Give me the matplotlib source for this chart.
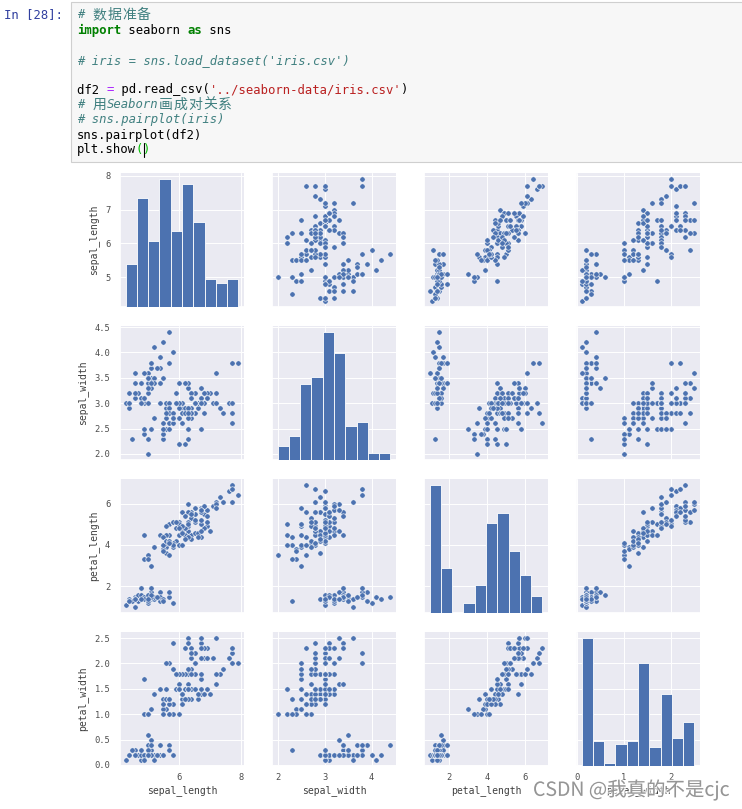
import numpy as np
import pandas as pd
import matplotlib
matplotlib.use('Agg')
import matplotlib.pyplot as plt
import matplotlib.patheffects as pe
from matplotlib.patches import Rectangle
import seaborn as sns

# ---------------- data (iris) ----------------
sepal_length = [
    5.1, 4.9, 4.7, 4.6, 5.0, 5.4, 4.6, 5.0, 4.4, 4.9, 5.4, 4.8, 4.8, 4.3, 5.8, 5.7, 5.4, 5.1, 5.7, 5.1,
    5.4, 5.1, 4.6, 5.1, 4.8, 5.0, 5.0, 5.2, 5.2, 4.7, 4.8, 5.4, 5.2, 5.5, 4.9, 5.0, 5.5, 4.9, 4.4, 5.1,
    5.0, 4.5, 4.4, 5.0, 5.1, 4.8, 5.1, 4.6, 5.3, 5.0,
    7.0, 6.4, 6.9, 5.5, 6.5, 5.7, 6.3, 4.9, 6.6, 5.2, 5.0, 5.9, 6.0, 6.1, 5.6, 6.7, 5.6, 5.8, 6.2, 5.6,
    5.9, 6.1, 6.3, 6.1, 6.4, 6.6, 6.8, 6.7, 6.0, 5.7, 5.5, 5.5, 5.8, 6.0, 5.4, 6.0, 6.7, 6.3, 5.6, 5.5,
    5.5, 6.1, 5.8, 5.0, 5.6, 5.7, 5.7, 6.2, 5.1, 5.7,
    6.3, 5.8, 7.1, 6.3, 6.5, 7.6, 4.9, 7.3, 6.7, 7.2, 6.5, 6.4, 6.8, 5.7, 5.8, 6.4, 6.5, 7.7, 7.7, 6.0,
    6.9, 5.6, 7.7, 6.3, 6.7, 7.2, 6.2, 6.1, 6.4, 7.2, 7.4, 7.9, 6.4, 6.3, 6.1, 7.7, 6.3, 6.4, 6.0, 6.9,
    6.7, 6.9, 5.8, 6.8, 6.7, 6.7, 6.3, 6.5, 6.2, 5.9]
sepal_width = [
    3.5, 3.0, 3.2, 3.1, 3.6, 3.9, 3.4, 3.4, 2.9, 3.1, 3.7, 3.4, 3.0, 3.0, 4.0, 4.4, 3.9, 3.5, 3.8, 3.8,
    3.4, 3.7, 3.6, 3.3, 3.4, 3.0, 3.4, 3.5, 3.4, 3.2, 3.1, 3.4, 4.1, 4.2, 3.1, 3.2, 3.5, 3.6, 3.0, 3.4,
    3.5, 2.3, 3.2, 3.5, 3.8, 3.0, 3.8, 3.2, 3.7, 3.3,
    3.2, 3.2, 3.1, 2.3, 2.8, 2.8, 3.3, 2.4, 2.9, 2.7, 2.0, 3.0, 2.2, 2.9, 2.9, 3.1, 3.0, 2.7, 2.2, 2.5,
    3.2, 2.8, 2.5, 2.8, 2.9, 3.0, 2.8, 3.0, 2.9, 2.6, 2.4, 2.4, 2.7, 2.7, 3.0, 3.4, 3.1, 2.3, 3.0, 2.5,
    2.6, 3.0, 2.6, 2.3, 2.7, 3.0, 2.9, 2.9, 2.5, 2.8,
    3.3, 2.7, 3.0, 2.9, 3.0, 3.0, 2.5, 2.9, 2.5, 3.6, 3.2, 2.7, 3.0, 2.5, 2.8, 3.2, 3.0, 3.8, 2.6, 2.2,
    3.2, 2.8, 2.8, 2.7, 3.3, 3.2, 2.8, 3.0, 2.8, 3.0, 2.8, 3.8, 2.8, 2.8, 2.6, 3.0, 3.4, 3.1, 3.0, 3.1,
    3.1, 3.1, 2.7, 3.2, 3.3, 3.0, 2.5, 3.0, 3.4, 3.0]
petal_length = [
    1.4, 1.4, 1.3, 1.5, 1.4, 1.7, 1.4, 1.5, 1.4, 1.5, 1.5, 1.6, 1.4, 1.1, 1.2, 1.5, 1.3, 1.4, 1.7, 1.5,
    1.7, 1.5, 1.0, 1.7, 1.9, 1.6, 1.6, 1.5, 1.4, 1.6, 1.6, 1.5, 1.5, 1.4, 1.5, 1.2, 1.3, 1.4, 1.3, 1.5,
    1.3, 1.3, 1.3, 1.6, 1.9, 1.4, 1.6, 1.4, 1.5, 1.4,
    4.7, 4.5, 4.9, 4.0, 4.6, 4.5, 4.7, 3.3, 4.6, 3.9, 3.5, 4.2, 4.0, 4.7, 3.6, 4.4, 4.5, 4.1, 4.5, 3.9,
    4.8, 4.0, 4.9, 4.7, 4.3, 4.4, 4.8, 5.0, 4.5, 3.5, 3.8, 3.7, 3.9, 5.1, 4.5, 4.5, 4.7, 4.4, 4.1, 4.0,
    4.4, 4.6, 4.0, 3.3, 4.2, 4.2, 4.2, 4.3, 3.0, 4.1,
    6.0, 5.1, 5.9, 5.6, 5.8, 6.6, 4.5, 6.3, 5.8, 6.1, 5.1, 5.3, 5.5, 5.0, 5.1, 5.3, 5.5, 6.7, 6.9, 5.0,
    5.7, 4.9, 6.7, 4.9, 5.7, 6.0, 4.8, 4.9, 5.6, 5.8, 6.1, 6.4, 5.6, 5.1, 5.6, 6.1, 5.6, 5.5, 4.8, 5.4,
    5.6, 5.1, 5.1, 5.9, 5.7, 5.2, 5.0, 5.2, 5.4, 5.1]
petal_width = [
    0.2, 0.2, 0.2, 0.2, 0.2, 0.4, 0.3, 0.2, 0.2, 0.1, 0.2, 0.2, 0.1, 0.1, 0.2, 0.4, 0.4, 0.3, 0.3, 0.3,
    0.2, 0.4, 0.2, 0.5, 0.2, 0.2, 0.4, 0.2, 0.2, 0.2, 0.2, 0.4, 0.1, 0.2, 0.2, 0.2, 0.2, 0.1, 0.2, 0.2,
    0.3, 0.3, 0.2, 0.6, 0.4, 0.3, 0.2, 0.2, 0.2, 0.2,
    1.4, 1.5, 1.5, 1.3, 1.5, 1.3, 1.6, 1.0, 1.3, 1.4, 1.0, 1.5, 1.0, 1.4, 1.3, 1.4, 1.5, 1.0, 1.5, 1.1,
    1.8, 1.3, 1.5, 1.2, 1.3, 1.4, 1.4, 1.7, 1.5, 1.0, 1.1, 1.0, 1.2, 1.6, 1.5, 1.6, 1.5, 1.3, 1.3, 1.3,
    1.2, 1.4, 1.2, 1.0, 1.3, 1.2, 1.3, 1.3, 1.1, 1.3,
    2.5, 1.9, 2.1, 1.8, 2.2, 2.1, 1.7, 1.8, 1.8, 2.5, 2.0, 1.9, 2.1, 2.0, 2.4, 2.3, 1.8, 2.2, 2.3, 1.5,
    2.3, 2.0, 2.0, 1.8, 2.1, 1.8, 1.8, 1.8, 2.1, 1.6, 1.9, 2.0, 2.2, 1.5, 1.4, 2.3, 2.4, 1.8, 1.8, 2.1,
    2.4, 2.3, 1.9, 2.3, 2.5, 2.3, 1.9, 2.0, 2.3, 1.8]
variables = ['sepal_length', 'sepal_width', 'petal_length', 'petal_width']

# tick positions shown in the reference
x_ticks = {'sepal_length': [6, 8], 'sepal_width': [2, 3, 4],
           'petal_length': [2, 4, 6], 'petal_width': [0, 1, 2]}
y_ticks = {'sepal_length': [5, 6, 7, 8], 'sepal_width': [2.0, 2.5, 3.0, 3.5, 4.0, 4.5],
           'petal_length': [2, 4, 6], 'petal_width': [0.0, 0.5, 1.0, 1.5, 2.0, 2.5]}

# ---------------- style ----------------
sns.set_theme(style='darkgrid')
plt.rcParams['font.family'] = ['DejaVu Sans Mono', 'Noto Sans CJK SC']
plt.rcParams.update({
    'xtick.labelsize': 6.3, 'ytick.labelsize': 6.3, 'axes.labelsize': 7.0,
    'xtick.major.size': 0, 'ytick.major.size': 0,
    'xtick.major.pad': 5.0, 'ytick.major.pad': 7.0,
    'axes.labelpad': 3.0,
    'grid.linewidth': 0.7,
    'xtick.color': '.3', 'ytick.color': '.3', 'axes.labelcolor': '.25', 'text.color': '.25',
})

BLUE = '#4c72b0'
df = pd.DataFrame({'sepal_length': sepal_length, 'sepal_width': sepal_width,
                   'petal_length': petal_length, 'petal_width': petal_width})

g = sns.pairplot(df, vars=variables, height=1.85, grid_kws=dict(diag_sharey=False),
                 diag_kws=dict(bins=10, color=BLUE, alpha=1, edgecolor='white', linewidth=0.6),
                 plot_kws=dict(s=15, color=BLUE, edgecolor='white', linewidth=0.4))
fig = g.figure
fig.set_size_inches(7.42, 8.09)
fig.set_dpi(100)
try:
    fig.set_layout_engine(None)
except Exception:
    pass

W, H = 742.0, 809.0
fig.subplots_adjust(left=120 / W, right=700 / W, top=1 - 173 / H, bottom=1 - 766 / H,
                    wspace=28 / 124, hspace=19 / 134)

for j, v in enumerate(variables):
    g.axes[-1, j].set_xticks(x_ticks[v])
    g.axes[-1, j].xaxis.labelpad = 2.0
    g.axes[j, 0].set_yticks(y_ticks[v])
    g.axes[j, 0].yaxis.labelpad = 4.5


def fx(x):
    return x / W


def fy(y):
    return 1 - y / H


# ---------------- notebook code cell ----------------
fig.add_artist(Rectangle((fx(71), fy(162)), fx(742 - 71) + 0.01, 160 / H,
                         transform=fig.transFigure, facecolor='#f7f7f7',
                         edgecolor='#cfcfcf', linewidth=0.8))

FS = 8.8
CW = 7.36
X0 = 77.0
MONO = ['DejaVu Sans Mono', 'Noto Sans CJK SC']

fig.text(fx(4), fy(15), 'In [28]:', family=MONO, fontsize=FS, color='#303F9F', va='center')

C_COM = ('#408080', 'italic', 'normal')
C_KW = ('#008000', 'normal', 'bold')
C_NORM = ('#000000', 'normal', 'normal')
C_OP = ('#AA22FF', 'normal', 'normal')
C_STR = ('#BA2121', 'normal', 'normal')
C_BR = ('#00bb00', 'normal', 'normal')

code_lines = [
    (15, [('# 数据准备', C_COM)]),
    (30, [('import', C_KW), (' seaborn ', C_NORM), ('as', C_KW), (' sns', C_NORM)]),
    (61, [("# iris = sns.load_dataset('iris.csv')", C_COM)]),
    (90, [('df2 ', C_NORM), ('=', C_OP), (' pd.read_csv(', C_NORM),
          ("'../seaborn-data/iris.csv'", C_STR), (')', C_NORM)]),
    (105, [('# 用Seaborn画成对关系', C_COM)]),
    (120, [('# sns.pairplot(iris)', C_COM)]),
    (135, [('sns.pairplot(df2)', C_NORM)]),
    (150, [('plt.show', C_NORM), ('(', C_BR), (')', C_BR)]),
]

for y, tokens in code_lines:
    col = 0
    for text, (color, style, weight) in tokens:
        run = ''
        run_col = col
        for ch in text:
            if ord(ch) > 0x2E80:
                if run:
                    fig.text(fx(X0 + run_col * CW), fy(y), run, family=MONO, fontsize=FS,
                             color=color, style=style, weight=weight, va='center')
                    run = ''
                fig.text(fx(X0 + col * CW + 1), fy(y), ch, family=['Noto Sans CJK SC'],
                         fontsize=FS + 1.2, color=color, va='center')
                col += 2
                run_col = col
            else:
                if not run:
                    run_col = col
                run += ch
                col += 1
        if run:
            fig.text(fx(X0 + run_col * CW), fy(y), run, family=MONO, fontsize=FS,
                     color=color, style=style, weight=weight, va='center')

# text cursor inside plt.show()
cx = X0 + 9 * CW + 0.5
fig.add_artist(plt.Line2D([fx(cx), fx(cx)], [fy(143), fy(157)], transform=fig.transFigure,
                          color='black', linewidth=0.8))

# ---------------- watermark ----------------
fig.text(fx(533), fy(790), 'CSDN @我真的不是cjc', family=['Noto Sans CJK SC', 'DejaVu Sans'],
         fontsize=14, color='#8c8c8c', va='center', alpha=0.9,
         path_effects=[pe.withStroke(linewidth=2, foreground='white', alpha=0.7)])

fig.savefig('out.png', dpi=100, facecolor='white')
